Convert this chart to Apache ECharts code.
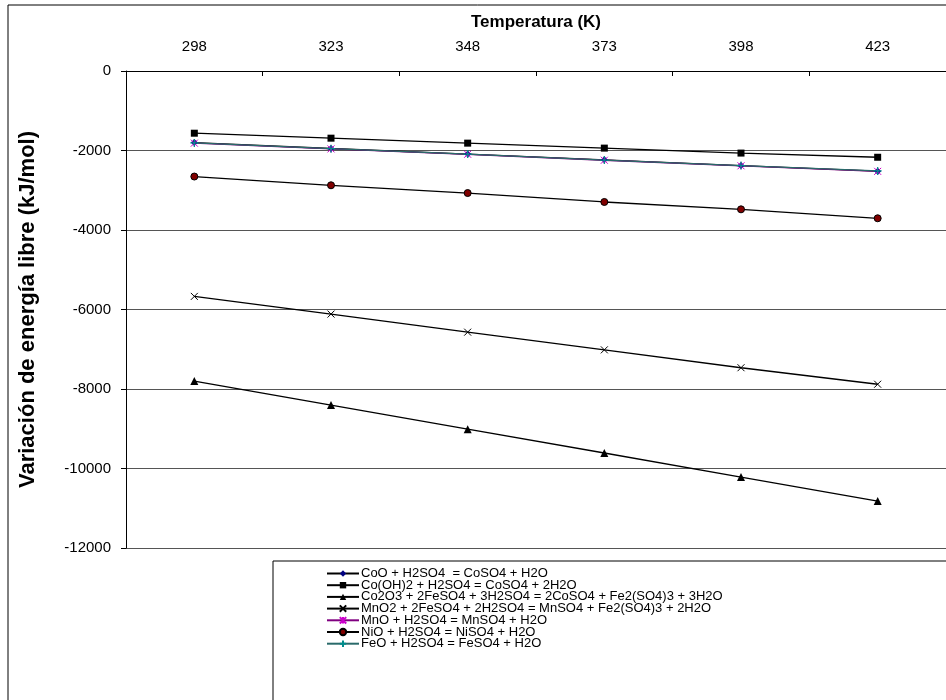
<!DOCTYPE html>
<html>
<head>
<meta charset="utf-8">
<script src="https://cdn.jsdelivr.net/npm/echarts@6/dist/echarts.min.js"></script>
<style>html,body{margin:0;padding:0;background:#fff}#c{width:946px;height:700px}</style>
</head>
<body>
<div id="c"></div>
<script>
const temperatures = ['298', '323', '348', '373', '398', '423'];
const seriesNames = [
  'CoO + H2SO4  = CoSO4 + H2O',
  'Co(OH)2 + H2SO4 = CoSO4 + 2H2O',
  'Co2O3 + 2FeSO4 + 3H2SO4 = 2CoSO4 + Fe2(SO4)3 + 3H2O',
  'MnO2 + 2FeSO4 + 2H2SO4 = MnSO4 + Fe2(SO4)3 + 2H2O',
  'MnO + H2SO4 = MnSO4 + H2O',
  'NiO + H2SO4 = NiSO4 + H2O',
  'FeO + H2SO4 = FeSO4 + H2O'
];
const coO    = [-1800, -1950, -2090, -2235, -2380, -2520];
const coOH2  = [-1565, -1690, -1815, -1940, -2065, -2170];
const co2O3  = [-7800, -8405, -9010, -9610, -10215, -10820];
const mnO2   = [-5670, -6115, -6570, -7015, -7465, -7880];
const mnO    = [-1815, -1960, -2095, -2245, -2385, -2525];
const niO    = [-2655, -2875, -3070, -3295, -3480, -3705];
const feO    = [-1810, -1955, -2090, -2240, -2380, -2515];
const yTicks = [0, -2000, -4000, -6000, -8000, -10000, -12000];

const FONT = '"Liberation Sans", Arial, sans-serif';
const chart = echarts.init(document.getElementById('c'), null, {renderer: 'canvas'});

function mk(name, data, lineColor, symbol, size, itemStyle) {
  return {
    name: name, type: 'line', data: data, symbol: symbol, symbolSize: size,
    showAllSymbol: true,
    lineStyle: {color: lineColor, width: 1.3},
    itemStyle: itemStyle,
    emphasis: {disabled: true},
    z: 3
  };
}

const pathX = 'path://M0,0L10,10M10,0L0,10';
const pathStar = 'path://M0,0L10,10M10,0L0,10M5,0L5,10';
const pathPlus = 'path://M5,0L5,10M0,5L10,5';

chart.setOption({
  animation: false,
  backgroundColor: '#fff',
  textStyle: {fontFamily: FONT},
  graphic: [
    {type: 'rect', shape: {x: 8, y: 5, width: 1200, height: 1200}, style: {fill: 'none', stroke: '#000', lineWidth: 1}, z: -1, silent: true},
    {type: 'rect', shape: {x: 273, y: 561, width: 1000, height: 500}, style: {fill: '#fff', stroke: '#000', lineWidth: 1}, z: 10, silent: true}
  ],
  grid: {left: 126, top: 71, right: -7, bottom: 152, containLabel: false},
  xAxis: {
    type: 'category', position: 'top', data: temperatures, boundaryGap: true,
    name: 'Temperatura (K)', nameLocation: 'middle', nameGap: 40,
    nameTextStyle: {fontFamily: FONT, fontSize: 17, fontWeight: 'bold', color: '#000'},
    axisLine: {show: true, lineStyle: {color: '#000', width: 1}},
    axisTick: {show: true, inside: true, length: 5, lineStyle: {color: '#000'}},
    axisLabel: {fontFamily: FONT, fontSize: 15, color: '#000', margin: 17},
    splitLine: {show: false}
  },
  yAxis: {
    type: 'value', min: yTicks[yTicks.length - 1], max: yTicks[0], interval: 2000,
    name: 'Variación de energía libre (kJ/mol)', nameLocation: 'middle', nameGap: 87,
    nameTextStyle: {fontFamily: FONT, fontSize: 22, fontWeight: 'bold', color: '#000'},
    axisLine: {show: true, onZero: false, lineStyle: {color: '#000', width: 1}},
    axisTick: {show: true, inside: false, length: 5, lineStyle: {color: '#000'}},
    axisLabel: {fontFamily: FONT, fontSize: 15, color: '#000', margin: 15, formatter: function (v) { return String(v); }},
    splitLine: {show: true, lineStyle: {color: '#555', width: 1}}
  },
  legend: {
    orient: 'vertical', left: 326, top: 567, itemGap: -1.3, itemWidth: 32, itemHeight: 8,
    padding: 0, z: 20,
    textStyle: {fontFamily: FONT, fontSize: 13, color: '#000', padding: [0, 0, 0, -3]},
    data: seriesNames
  },
  series: [
    mk(seriesNames[0], coO, '#000', 'diamond', 7, {color: '#000080', borderColor: '#000080', borderWidth: 0}),
    mk(seriesNames[1], coOH2, '#000', 'rect', 7, {color: '#000', borderColor: '#000', borderWidth: 0}),
    mk(seriesNames[2], co2O3, '#000', 'triangle', 8, {color: '#000', borderColor: '#000', borderWidth: 0}),
    mk(seriesNames[3], mnO2, '#000', pathX, 7, {color: '#000', borderColor: '#000', borderWidth: 1}),
    mk(seriesNames[4], mnO, '#800080', pathStar, 7, {color: '#cc00cc', borderColor: '#cc00cc', borderWidth: 1}),
    mk(seriesNames[5], niO, '#000', 'circle', 7, {color: '#800000', borderColor: '#000', borderWidth: 1}),
    mk(seriesNames[6], feO, '#2a6a6a', pathPlus, 8, {color: '#008b8b', borderColor: '#008b8b', borderWidth: 1.2})
  ]
});
</script>
</body>
</html>
